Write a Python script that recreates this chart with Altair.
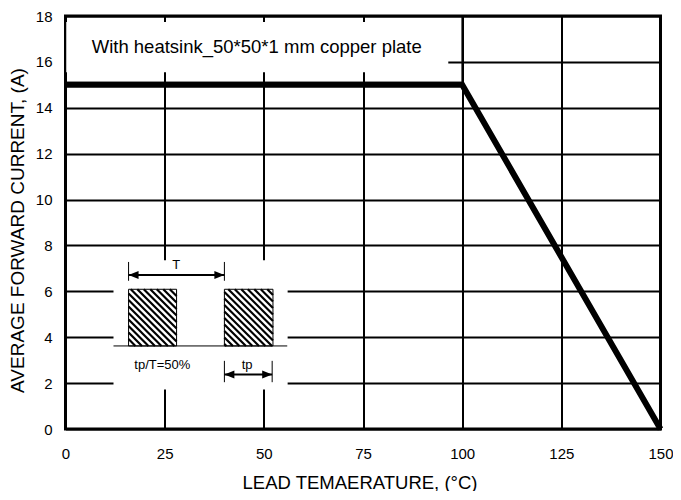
import altair as alt
import pandas as pd
import numpy as np

W, H = 595, 413
XMAX, YMAX = 150, 18
FONT = "Liberation Sans"

# main curve
temps = [0, 100, 150]
current = [15, 15, 0]
x_ticks = [0, 25, 50, 75, 100, 125, 150]
y_ticks = [0, 2, 4, 6, 8, 10, 12, 14, 16, 18]

# note box
note_text = ["With heatsink_50*50*1 mm copper plate"]
note_x = [6.6]
note_y = [16.39]
note_box_x = [0, 100]
note_box_y = [15.1, 18]
note_fill_x = [0, 96.5]
note_fill_y = [15.55, 17.74]

# inset diagram
inset_clear_x = [12.1, 56.0]
inset_clear_y = [1.72, 7.36]
pulse_left = [15.9, 40.06]
pulse_right = [28.0, 52.3]
pulse_low = [3.62, 3.62]
pulse_high = [6.09, 6.09]
base_x = [12.1, 55.9]
base_y = [3.62]
period_x = [15.9, 40.06]
period_y = [6.71]
period_tick_y = [6.46, 7.28]
width_x = [40.06, 52.1]
width_y = [2.37]
width_tick_y = [2.04, 2.97]
inset_labels = ["T", "tp", "tp/T=50%"]
inset_label_x = [27.9, 45.8, 24.4]
inset_label_y = [6.99, 2.63, 2.61]

xs = alt.Scale(domain=[0, XMAX], nice=False, zero=False)
ys = alt.Scale(domain=[0, YMAX], nice=False, zero=False)

xaxis = alt.Axis(values=x_ticks, title="LEAD TEMAERATURE, (°C)", titleX=294, titleY=59,
                 titleBaseline="alphabetic", titleAlign="center", labelPadding=17,
                 labelFlush=False, labelOverlap=False, titleFontSize=18.5)
yaxis = alt.Axis(values=y_ticks, title="AVERAGE FORWARD CURRENT, (A)", titleX=-42.2, titleY=214,
                 titleAngle=270, titleBaseline="alphabetic", titleAlign="center", labelPadding=13.5,
                 labelFlush=False, labelOverlap=False, titleFontSize=19)


def X(f):
    return alt.X(f, type="quantitative", scale=xs, axis=xaxis)


def Y(f):
    return alt.Y(f, type="quantitative", scale=ys, axis=yaxis)


def px(x):
    return x / XMAX * W


def py(y):
    return (YMAX - y) / YMAX * H


def dx(p):
    return p / W * XMAX


def dy(p):
    return YMAX - p / H * YMAX


# segments
segs = []
# hatching inside pulses
step = 6.5
for l, r, lo, hi in zip(pulse_left, pulse_right, pulse_low, pulse_high):
    x0, x1, y0, y1 = px(l), px(r), py(hi), py(lo)
    c = np.floor((x0 - y1) / step) * step
    while c <= x1 - y0:
        a = max(y0, x0 - c)
        b = min(y1, x1 - c)
        if b - a > 0.5:
            segs.append(dict(x=dx(a + c), x2=dx(b + c), y=dy(a), y2=dy(b), w=2.2))
        c += step
# baseline
segs.append(dict(x=base_x[0], x2=base_x[1], y=base_y[0], y2=base_y[0], w=1))
# arrows shafts
segs.append(dict(x=period_x[0], x2=period_x[1], y=period_y[0], y2=period_y[0], w=2))
segs.append(dict(x=width_x[0], x2=width_x[1], y=width_y[0], y2=width_y[0], w=2))
# arrow end ticks
for xv in period_x:
    segs.append(dict(x=xv, x2=xv, y=period_tick_y[0], y2=period_tick_y[1], w=1))
for xv in width_x:
    segs.append(dict(x=xv, x2=xv, y=width_tick_y[0], y2=width_tick_y[1], w=1))
seg_df = pd.DataFrame(segs)

main_df = pd.DataFrame({"temp": temps, "current": current})

note_fill = alt.Chart(pd.DataFrame({"x": [note_fill_x[0]], "x2": [note_fill_x[1]],
                                    "y": [note_fill_y[0]], "y2": [note_fill_y[1]]})).mark_rect(
    color="white").encode(x=X("x"), x2="x2", y=Y("y"), y2="y2")

note_border = alt.Chart(pd.DataFrame({"x": [note_box_x[0]], "x2": [note_box_x[1]],
                                      "y": [note_box_y[0]], "y2": [note_box_y[1]]})).mark_rect(
    fillOpacity=0, stroke="black", strokeWidth=1.5).encode(x=X("x"), x2="x2", y=Y("y"), y2="y2")

note = alt.Chart(pd.DataFrame({"x": note_x, "y": note_y, "t": note_text})).mark_text(
    align="left", baseline="alphabetic", font=FONT, fontSize=18.5, color="black").encode(
    x=X("x"), y=Y("y"), text="t:N")

inset_clear = alt.Chart(pd.DataFrame({"x": [inset_clear_x[0]], "x2": [inset_clear_x[1]],
                                      "y": [inset_clear_y[0]], "y2": [inset_clear_y[1]]})).mark_rect(
    color="white").encode(x=X("x"), x2="x2", y=Y("y"), y2="y2")

seg_layer = alt.Chart(seg_df).mark_rule(color="black", strokeCap="butt").encode(
    x=X("x"), x2="x2", y=Y("y"), y2="y2", strokeWidth=alt.StrokeWidth("w:Q", scale=None))

pulses = alt.Chart(pd.DataFrame({"x": pulse_left, "x2": pulse_right, "y": pulse_low, "y2": pulse_high})).mark_rect(
    fillOpacity=0, stroke="black", strokeWidth=1).encode(x=X("x"), x2="x2", y=Y("y"), y2="y2")

heads_df = pd.DataFrame({
    "x": [period_x[0], period_x[1], width_x[0], width_x[1]],
    "y": [period_y[0], period_y[0], width_y[0], width_y[0]],
    "dir": ["L", "R", "L", "R"],
})
head_left = alt.Chart(heads_df[heads_df.dir == "L"]).mark_point(
    shape="M0,0L2,-0.8L2,0.8Z", filled=True, size=100, color="black", opacity=1, strokeWidth=0).encode(
    x=X("x"), y=Y("y"))
head_right = alt.Chart(heads_df[heads_df.dir == "R"]).mark_point(
    shape="M0,0L-2,-0.8L-2,0.8Z", filled=True, size=100, color="black", opacity=1, strokeWidth=0).encode(
    x=X("x"), y=Y("y"))

labels = alt.Chart(pd.DataFrame({"x": inset_label_x, "y": inset_label_y, "t": inset_labels})).mark_text(
    align="center", baseline="alphabetic", font=FONT, fontSize=13, color="black").encode(
    x=X("x"), y=Y("y"), text="t:N")

line = alt.Chart(main_df).mark_line(color="black", strokeWidth=6, strokeJoin="miter", strokeCap="butt").encode(
    x=X("temp"), y=Y("current"))

chart = alt.layer(
    note_fill, note_border, note, inset_clear, seg_layer, pulses, head_left, head_right, labels, line,
).properties(
    width=W, height=H,
    padding={"left": 57.5, "top": 8, "right": 12, "bottom": 62},
    autosize=alt.AutoSizeParams(type="none"),
).configure_view(
    stroke="black", strokeWidth=3
).configure_axis(
    grid=True, gridColor="black", gridWidth=2, gridOpacity=1,
    domain=False, ticks=False,
    labelFont=FONT, labelFontSize=15, labelColor="black",
    titleFont=FONT, titleFontWeight="normal", titleColor="black",
)

chart.save("out.html", embed_options={"renderer": "svg", "actions": False})
